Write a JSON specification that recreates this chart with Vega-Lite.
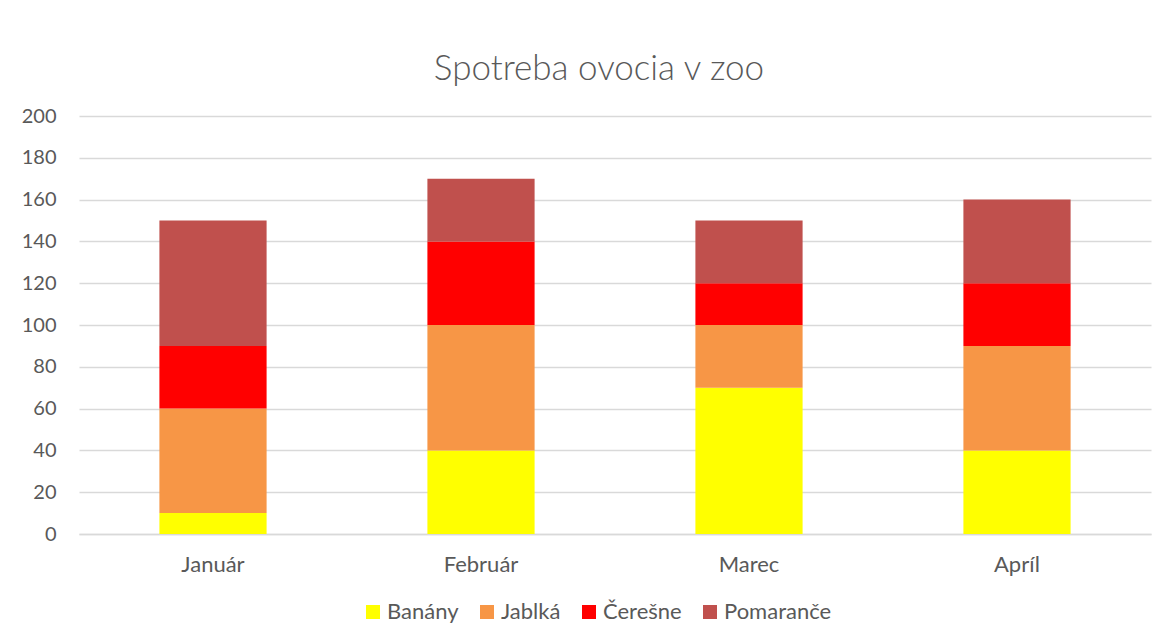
{
  "$schema": "https://vega.github.io/schema/vega-lite/v6.json",
  "autosize": "none",
  "width": 1072,
  "height": 418,
  "padding": {"left": 79, "top": 116, "right": 22, "bottom": 109},
  "background": "white",
  "title": {
    "text": "Spotreba ovocia v zoo",
    "font": "Lato",
    "fontSize": 35,
    "fontWeight": 300,
    "color": "#595959",
    "anchor": "middle",
    "dx": -16,
    "offset": 19
  },
  "data": {
    "values": [
      {"mesiac": "Január", "ovocie": "Banány", "i": 1, "pocet": 10},
      {"mesiac": "Január", "ovocie": "Jablká", "i": 2, "pocet": 50},
      {"mesiac": "Január", "ovocie": "Čerešne", "i": 3, "pocet": 30},
      {"mesiac": "Január", "ovocie": "Pomaranče", "i": 4, "pocet": 60},
      {"mesiac": "Február", "ovocie": "Banány", "i": 1, "pocet": 40},
      {"mesiac": "Február", "ovocie": "Jablká", "i": 2, "pocet": 60},
      {"mesiac": "Február", "ovocie": "Čerešne", "i": 3, "pocet": 40},
      {"mesiac": "Február", "ovocie": "Pomaranče", "i": 4, "pocet": 30},
      {"mesiac": "Marec", "ovocie": "Banány", "i": 1, "pocet": 70},
      {"mesiac": "Marec", "ovocie": "Jablká", "i": 2, "pocet": 30},
      {"mesiac": "Marec", "ovocie": "Čerešne", "i": 3, "pocet": 20},
      {"mesiac": "Marec", "ovocie": "Pomaranče", "i": 4, "pocet": 30},
      {"mesiac": "Apríl", "ovocie": "Banány", "i": 1, "pocet": 40},
      {"mesiac": "Apríl", "ovocie": "Jablká", "i": 2, "pocet": 50},
      {"mesiac": "Apríl", "ovocie": "Čerešne", "i": 3, "pocet": 30},
      {"mesiac": "Apríl", "ovocie": "Pomaranče", "i": 4, "pocet": 40}
    ]
  },
  "mark": {"type": "bar"},
  "encoding": {
    "x": {
      "field": "mesiac",
      "type": "nominal",
      "sort": ["Január", "Február", "Marec", "Apríl"],
      "scale": {"paddingInner": 0.6, "paddingOuter": 0.3},
      "axis": {
        "title": null,
        "labelAngle": 0,
        "ticks": false,
        "domain": true,
        "domainColor": "#D9D9D9",
        "domainWidth": 1.3,
        "labelPadding": 20,
        "labelFont": "Lato",
        "labelFontSize": 22,
        "labelColor": "#595959"
      }
    },
    "y": {
      "field": "pocet",
      "type": "quantitative",
      "stack": "zero",
      "scale": {"domain": [0, 200], "nice": false},
      "axis": {
        "title": null,
        "values": [0, 20, 40, 60, 80, 100, 120, 140, 160, 180, 200],
        "ticks": false,
        "domain": false,
        "grid": true,
        "gridColor": "#D9D9D9",
        "gridWidth": 1.3,
        "labelPadding": 23,
        "labelFont": "Lato",
        "labelFontSize": 20,
        "labelColor": "#595959"
      }
    },
    "color": {
      "field": "ovocie",
      "type": "nominal",
      "scale": {
        "domain": ["Banány", "Jablká", "Čerešne", "Pomaranče"],
        "range": ["#FFFF00", "#F79646", "#FF0000", "#C0504D"]
      },
      "legend": {
        "title": null,
        "orient": "none",
        "direction": "horizontal",
        "legendX": 283,
        "legendY": 485,
        "padding": 0,
        "symbolType": "square",
        "symbolSize": 196,
        "symbolStrokeWidth": 0,
        "symbolOpacity": 1,
        "labelFont": "Lato",
        "labelFontSize": 22,
        "labelColor": "#595959",
        "labelOffset": 3,
        "columnPadding": 17
      }
    },
    "order": {"field": "i", "type": "quantitative"}
  },
  "config": {
    "view": {"stroke": null}
  }
}
